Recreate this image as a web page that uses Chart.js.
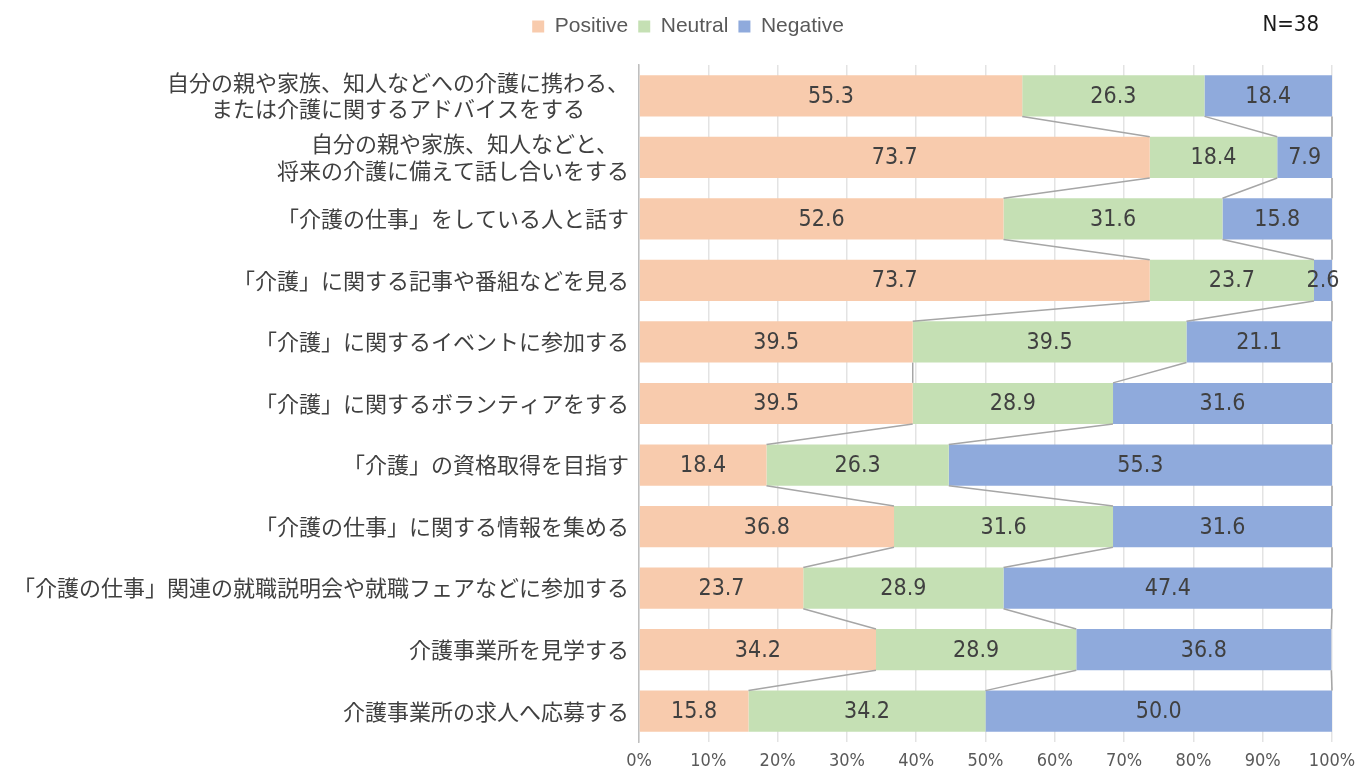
<!DOCTYPE html>
<html lang="ja">
<head>
<meta charset="utf-8">
<title>介護に関する行動への意向</title>
<script src="https://cdn.jsdelivr.net/npm/chart.js@4/dist/chart.umd.min.js"></script>
<style>
  html, body { margin: 0; padding: 0; background: #ffffff; }
  #wrap { width: 1355px; height: 771px; }
</style>
</head>
<body>
<div id="wrap"><canvas id="chart" width="1355" height="771"></canvas></div>
<script>
// Categories (multi-line labels are arrays of lines)
const categories = [
  ['自分の親や家族、知人などへの介護に携わる、', 'または介護に関するアドバイスをする'],
  ['自分の親や家族、知人などと、', '将来の介護に備えて話し合いをする'],
  '「介護の仕事」をしている人と話す',
  '「介護」に関する記事や番組などを見る',
  '「介護」に関するイベントに参加する',
  '「介護」に関するボランティアをする',
  '「介護」の資格取得を目指す',
  '「介護の仕事」に関する情報を集める',
  '「介護の仕事」関連の就職説明会や就職フェアなどに参加する',
  '介護事業所を見学する',
  '介護事業所の求人へ応募する'
];

// Shares in percent per category
const positive = [55.3, 73.7, 52.6, 73.7, 39.5, 39.5, 18.4, 36.8, 23.7, 34.2, 15.8];
const neutral  = [26.3, 18.4, 31.6, 23.7, 39.5, 28.9, 26.3, 31.6, 28.9, 28.9, 34.2];
const negative = [18.4,  7.9, 15.8,  2.6, 21.1, 31.6, 55.3, 31.6, 47.4, 36.8, 50.0];

const seriesNames = ['Positive', 'Neutral', 'Negative'];
const sampleNote = 'N=38';
const xTicks = [0, 10, 20, 30, 40, 50, 60, 70, 80, 90, 100];

const NUM_FONT = '"Liberation Sans Narrow", "DejaVu Sans Condensed", "Roboto", sans-serif';
const JP_FONT = '"Noto Sans CJK JP", "Noto Sans", sans-serif';

// Connector lines between the segment edges of neighbouring bars
const seriesLines = {
  id: 'seriesLines',
  afterDatasetsDraw(chart) {
    const ctx = chart.ctx;
    const metas = chart.data.datasets.map((d, i) => chart.getDatasetMeta(i));
    ctx.save();
    ctx.strokeStyle = '#a6a6a6';
    ctx.lineWidth = 1.5;
    for (let i = 0; i < chart.data.labels.length - 1; i++) {
      metas.forEach(meta => {
        const a = meta.data[i], b = meta.data[i + 1];
        if (!a || !b) return;
        const xa = Math.min(a.x, chart.chartArea.right);
        const xb = Math.min(b.x, chart.chartArea.right);
        ctx.beginPath();
        ctx.moveTo(xa, a.y + a.height / 2);
        ctx.lineTo(xb, b.y - b.height / 2);
        ctx.stroke();
      });
    }
    ctx.restore();
  }
};

// Value labels centred in every segment
const valueLabels = {
  id: 'valueLabels',
  afterDatasetsDraw(chart) {
    const ctx = chart.ctx;
    ctx.save();
    ctx.font = '23px ' + NUM_FONT;
    ctx.fillStyle = '#404040';
    ctx.textAlign = 'center';
    ctx.textBaseline = 'middle';
    chart.data.datasets.forEach((ds, di) => {
      chart.getDatasetMeta(di).data.forEach((el, i) => {
        const v = ds.data[i];
        const right = Math.min(el.x, chart.chartArea.right);
        ctx.fillText(v.toFixed(1), (right + el.base) / 2, el.y + 1);
      });
    });
    ctx.restore();
  }
};

// Sample size note in the top-right corner, legend nudged right
const headerNote = {
  id: 'headerNote',
  beforeInit(chart) {
    const fit = chart.legend && chart.legend.fit;
    if (fit) {
      chart.legend.fit = function () {
        fit.call(this);
        this.height += 18;
      };
    }
  },
  afterLayout(chart) {
    if (chart.legend) {
      chart.legend.left += 22;
      chart.legend.right += 22;
    }
  },
  afterDraw(chart) {
    const ctx = chart.ctx;
    ctx.save();
    ctx.font = '22px ' + NUM_FONT;
    ctx.fillStyle = '#1a1a1a';
    ctx.textAlign = 'right';
    ctx.textBaseline = 'middle';
    ctx.fillText(sampleNote, 1319, 25);
    ctx.restore();
  }
};

// Centre the shorter line of a two-line label under the longer one
function centreLines(label) {
  if (!Array.isArray(label)) return label;
  const maxLen = Math.max(...label.map(s => s.length));
  return label.map(s => s + '\u3000'.repeat(Math.round((maxLen - s.length) / 2)));
}

// Axes keep no extra margin for overflowing end labels
function noScalePadding(scale) {
  scale.paddingLeft = 0;
  scale.paddingRight = 0;
  scale.paddingTop = 0;
  scale.paddingBottom = 0;
}

const colors = ['#f8cbad', '#c5e0b4', '#8faadc'];
const values = [positive, neutral, negative];

new Chart(document.getElementById('chart'), {
  type: 'bar',
  data: {
    labels: categories,
    datasets: seriesNames.map((name, i) => ({
      label: name,
      data: values[i],
      backgroundColor: colors[i],
      borderWidth: 0,
      barPercentage: 0.67,
      categoryPercentage: 1.0
    }))
  },
  options: {
    indexAxis: 'y',
    responsive: false,
    animation: false,
    devicePixelRatio: 1,
    layout: { padding: { top: 6, right: 23, left: 0, bottom: 0 } },
    plugins: {
      legend: {
        position: 'top',
        labels: {
          boxWidth: 12,
          boxHeight: 12,
          padding: 10,
          color: '#595959',
          font: { size: 21, family: '"Liberation Sans", Arial, sans-serif' }
        }
      },
      tooltip: { enabled: false }
    },
    scales: {
      x: {
        stacked: true,
        min: 0,
        max: 100,
        afterBuildTicks(scale) {
          scale.ticks = xTicks.map(v => ({ value: v }));
        },
        afterFit(scale) { scale.height = 29; noScalePadding(scale); },
        ticks: {
          callback: v => v + '%',
          color: '#595959',
          padding: 9,
          font: { size: 18, family: NUM_FONT }
        },
        grid: { color: '#e3e3e3', lineWidth: 1.5, drawTicks: false },
        border: { display: false }
      },
      y: {
        stacked: true,
        afterFit(scale) { scale.width = 639; noScalePadding(scale); },
        ticks: {
          callback(value, index) { return centreLines(categories[index]); },
          color: '#404040',
          padding: 10,
          font: { size: 22, family: JP_FONT, lineHeight: 1.2 }
        },
        grid: { display: false, drawTicks: false },
        border: { display: true, color: '#bfbfbf', width: 1.5 }
      }
    }
  },
  plugins: [seriesLines, valueLabels, headerNote]
});
</script>
</body>
</html>
